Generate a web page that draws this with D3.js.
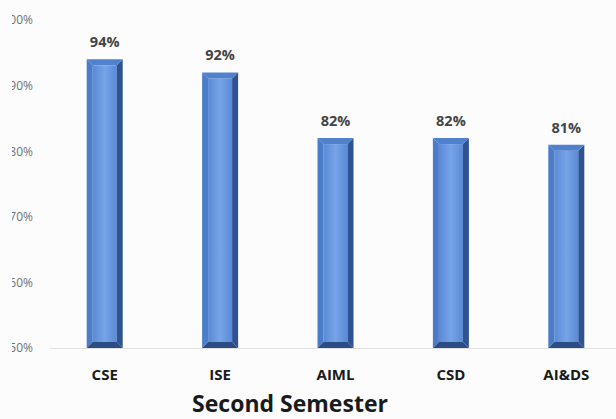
<!DOCTYPE html>
<html><head><meta charset="utf-8">
<script src="https://cdn.jsdelivr.net/npm/d3@7"></script>
<style>html,body{margin:0;padding:0;background:#fcfcfc;}svg{display:block;}</style>
</head><body>
<script>
const categories = ["CSE", "ISE", "AIML", "CSD", "AI&DS"];
const values = [94, 92, 82, 82, 81];
const yTicks = [50, 60, 70, 80, 90, 100];
const title = "Second Semester";

const W = 616, H = 419;
const svg = d3.select("body").append("svg").attr("width", W).attr("height", H);
svg.append("rect").attr("width", W).attr("height", H).attr("fill", "#fcfcfc");

const y = d3.scaleLinear().domain([50, 100]).range([348, 20]);
const x = d3.scaleBand().domain(categories).range([47, 624]).paddingInner(0.688).paddingOuter(0.344);

const defs = svg.append("defs");
defs.append("clipPath").attr("id", "lclip").append("rect").attr("x", 12).attr("y", 0).attr("width", 60).attr("height", H);
const g = defs.append("linearGradient").attr("id", "front").attr("x1", 0).attr("x2", 1).attr("y1", 0).attr("y2", 0);
g.append("stop").attr("offset", "0%").attr("stop-color", "#5a8ad6");
g.append("stop").attr("offset", "50%").attr("stop-color", "#76a4e8");
g.append("stop").attr("offset", "100%").attr("stop-color", "#5a8ad6");

// y axis labels (left part cut off as in the reference)
const clipG = svg.append("g").attr("clip-path", "url(#lclip)");
const yAxis = d3.axisLeft(y).tickValues(yTicks).tickFormat(d => d + "%").tickSize(0).tickPadding(0);
const ya = clipG.append("g").attr("transform", "translate(33,0)").call(yAxis);
ya.select(".domain").remove();
ya.selectAll("text").attr("font-family", "Open Sans, sans-serif").attr("font-size", 12).attr("fill", "#707070");

// baseline
svg.append("line").attr("x1", 50).attr("x2", 616).attr("y1", y(50) + 0.5).attr("y2", y(50) + 0.5)
  .attr("stroke", "#e2e2e2").attr("stroke-width", 1);

const b = 6;
const bars = svg.append("g").selectAll("g").data(categories).join("g");
bars.each(function(c, i) {
  const gg = d3.select(this);
  const x0 = x(c), x1 = x(c) + x.bandwidth(), y0 = y(values[i]), y1 = y(50);
  const poly = (pts, fill) => gg.append("polygon").attr("points", pts.map(p => p.join(",")).join(" ")).attr("fill", fill);
  gg.append("rect").attr("x", x0 + b).attr("y", y0 + b).attr("width", x1 - x0 - 2 * b).attr("height", y1 - y0 - 2 * b).attr("fill", "url(#front)");
  poly([[x0, y0], [x0 + b, y0 + b], [x0 + b, y1 - b], [x0, y1]], "#4a7cc8");
  poly([[x1, y0], [x1 - b, y0 + b], [x1 - b, y1 - b], [x1, y1]], "#2f5392");
  poly([[x0, y0], [x1, y0], [x1 - b, y0 + b], [x0 + b, y0 + b]], "#4f81cd");
  poly([[x0, y1], [x1, y1], [x1 - b, y1 - b], [x0 + b, y1 - b]], "#2c4c84");
  gg.append("text").attr("x", (x0 + x1) / 2).attr("y", y0 - 12).attr("text-anchor", "middle")
    .attr("font-family", "Open Sans, sans-serif").attr("font-weight", "bold").attr("font-size", 14.5)
    .attr("fill", "#444").text(values[i] + "%");
});

// x axis labels
const xAxis = d3.axisBottom(x).tickSize(0).tickPadding(0);
const xa = svg.append("g").attr("transform", "translate(0,380)").call(xAxis);
xa.select(".domain").remove();
xa.selectAll("text").attr("dy", 0).attr("font-family", "Open Sans, sans-serif").attr("font-weight", "bold")
  .attr("font-size", 15).attr("fill", "#1a1a1a");

svg.append("text").attr("x", 290).attr("y", 412).attr("text-anchor", "middle")
  .attr("font-family", "Open Sans, sans-serif").attr("font-weight", "bold").attr("font-size", 23)
  .attr("fill", "#1a1a1a").text(title);
</script>
</body></html>
